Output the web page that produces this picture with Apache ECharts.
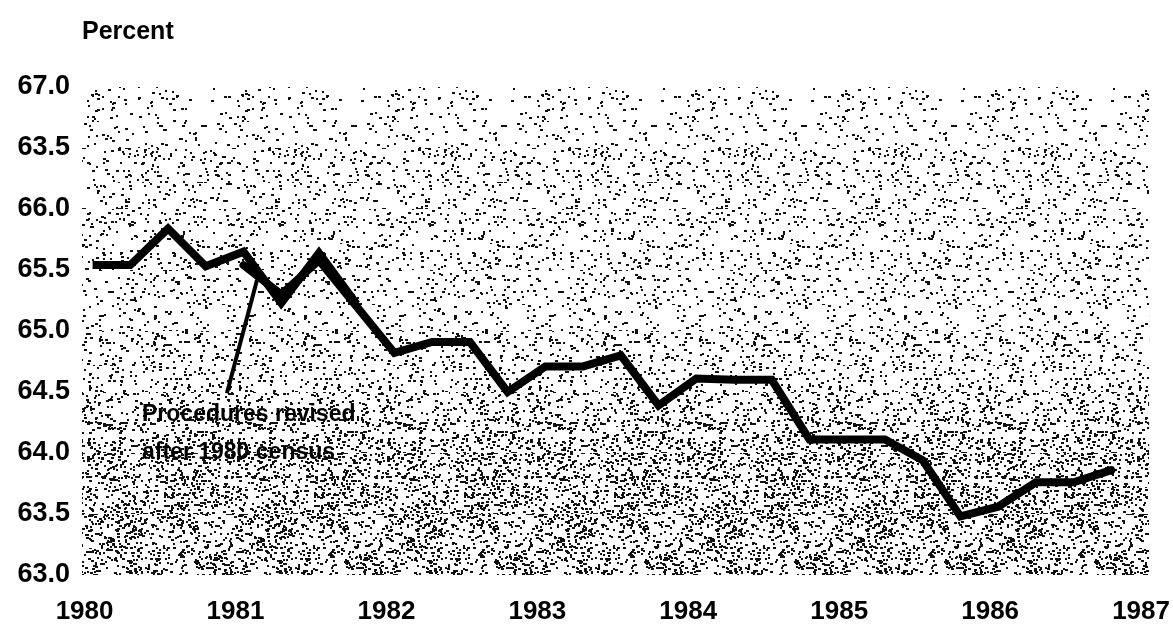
<!DOCTYPE html>
<html>
<head>
<meta charset="utf-8">
<script src="https://cdn.jsdelivr.net/npm/echarts@6/dist/echarts.min.js"></script>
<style>
  html, body { margin: 0; padding: 0; background: #fff; }
  #chart { width: 1173px; height: 630px; }
</style>
</head>
<body>
<div id="chart"></div>
<script>
// x values: start of each quarter, 1980 Q1 .. 1986 Q4
const quarterStarts = [
  1980.00, 1980.25, 1980.50, 1980.75,
  1981.00, 1981.25, 1981.50, 1981.75,
  1982.00, 1982.25, 1982.50, 1982.75,
  1983.00, 1983.25, 1983.50, 1983.75,
  1984.00, 1984.25, 1984.50, 1984.75,
  1985.00, 1985.25, 1985.50, 1985.75,
  1986.00, 1986.25, 1986.50, 1986.75
];
// old procedure, 1980 Q1 - 1981 Q4
const oldProcedure = [65.54, 65.54, 65.84, 65.53, 65.65, 65.23, 65.64, 65.22];
// revised after 1980 census, 1981 Q1 - 1986 Q4
const revised = [
  65.54, 65.30, 65.58, 65.20,
  64.82, 64.91, 64.91, 64.50,
  64.71, 64.71, 64.80, 64.39,
  64.61, 64.60, 64.60, 64.11,
  64.11, 64.11, 63.94, 63.48,
  63.56, 63.76, 63.76, 63.86
];
const yearLabels = [1980, 1981, 1982, 1983, 1984, 1985, 1986, 1987];
// tick labels bottom to top, as printed
const yTickLabels = ['63.0', '63.5', '64.0', '64.5', '65.0', '65.5', '66.0', '63.5', '67.0'];
// stipple density of each 0.5 band, bottom to top
const bandDensity = [0.15, 0.15, 0.11, 0.07, 0.045, 0.05, 0.055, 0.035];

const FONT = 'Liberation Sans, Arial, sans-serif';

function hash(x, y, s) {
  let h = (x * 374761393 + y * 668265263 + s * 982451653) | 0;
  h = Math.imul(h ^ (h >>> 13), 1274126177);
  h = h ^ (h >>> 16);
  return (h >>> 0) / 4294967296;
}

// dotted screen texture for the plot background
function stipple(density, seed) {
  const c = document.createElement('canvas');
  c.width = 150;
  c.height = 61;
  const g = c.getContext('2d');
  g.fillStyle = '#111';
  for (let y = 0; y < c.height; y++) {
    for (let x = 0; x < c.width; x++) {
      const h = hash(x, y, seed);
      if (h < density / 2.5) {
        const w = hash(y, x, seed + 7) > 0.6 ? 3 : 2;
        g.fillRect(x, y, w, 2);
      }
    }
  }
  return { image: c, repeat: 'repeat' };
}

const oldData = oldProcedure.map((v, i) => [quarterStarts[i], v]);
const revisedData = revised.map((v, i) => [quarterStarts[i + 4], v]);

const myChart = echarts.init(document.getElementById('chart'));

const option = {
  animation: false,
  backgroundColor: '#fff',
  grid: {
    left: 82,
    right: 20,
    top: 87,
    bottom: 55,
    containLabel: false
  },
  xAxis: {
    type: 'value',
    min: 1979.93,
    max: 1987.0,
    axisLine: { show: false },
    axisTick: { show: false },
    splitLine: { show: false },
    axisLabel: {
      customValues: yearLabels,
      margin: 24,
      padding: [0, 16, 0, 0],
      color: '#000',
      fontFamily: FONT,
      fontWeight: 'bold',
      fontSize: 26,
      formatter: v => String(v)
    }
  },
  yAxis: {
    type: 'value',
    min: 63,
    max: 67,
    interval: 0.5,
    name: 'Percent',
    nameLocation: 'end',
    nameGap: 42,
    nameTextStyle: {
      align: 'left',
      verticalAlign: 'bottom',
      color: '#000',
      fontFamily: FONT,
      fontWeight: 'bold',
      fontSize: 25
    },
    axisLine: { show: false },
    axisTick: { show: false },
    splitLine: { show: false },
    splitArea: {
      show: true,
      areaStyle: {
        color: bandDensity.map((d, i) => stipple(d, i + 1))
      }
    },
    axisLabel: {
      margin: 12,
      color: '#000',
      fontFamily: FONT,
      fontWeight: 'bold',
      fontSize: 27,
      formatter: v => yTickLabels[Math.round((v - 63) / 0.5)]
    }
  },
  graphic: [
    {
      type: 'text',
      left: 142,
      top: 403,
      z: 10,
      style: {
        text: 'Procedures revised',
        fill: '#000',
        font: 'bold 23px ' + FONT
      }
    },
    {
      type: 'text',
      left: 142,
      top: 441,
      z: 10,
      style: {
        text: 'after 1980 census',
        fill: '#000',
        font: 'bold 23px ' + FONT
      }
    }
  ],
  series: [
    {
      name: 'Old procedure',
      type: 'line',
      symbol: 'none',
      data: oldData,
      lineStyle: { color: '#000', width: 8, join: 'miter', cap: 'butt' },
      z: 3
    },
    {
      name: 'Revised',
      type: 'line',
      symbol: 'none',
      data: revisedData,
      lineStyle: { color: '#000', width: 8, join: 'miter', cap: 'round' },
      z: 3,
      markLine: {
        silent: true,
        symbol: ['none', 'none'],
        label: { show: false },
        lineStyle: { color: '#000', width: 4, type: 'solid' },
        data: [[{ coord: [1981.09, 65.42] }, { coord: [1980.89, 64.49] }]]
      }
    }
  ]
};

myChart.setOption(option);
window.addEventListener('resize', function () {
  myChart.resize();
});
</script>
</body>
</html>
